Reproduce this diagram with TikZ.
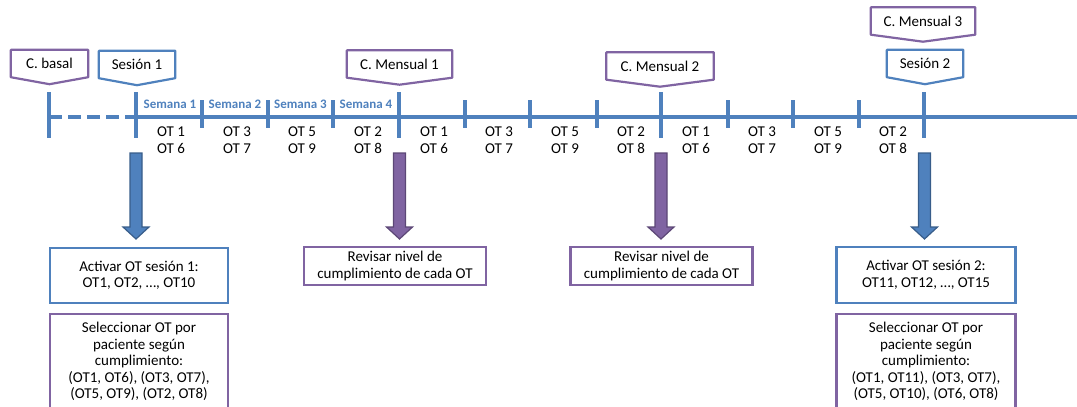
\documentclass[tikz,border=0pt]{standalone}
\usepackage{fontspec}
\setmainfont{Carlito}
\usepackage{tikz}
\definecolor{azul}{RGB}{79,129,189}
\definecolor{azulosc}{RGB}{56,93,138}
\definecolor{morado}{RGB}{128,100,162}
\definecolor{moradoosc}{RGB}{92,71,118}

\begin{document}
\begin{tikzpicture}[
    x = 1pt,
    y = -1pt,
    txt/.style = {
      font = \fontsize{15}{16.5}\selectfont,
      align = center,
      inner sep = 0pt
    },
    sem/.style = {
      font = \fontsize{13}{15}\selectfont\bfseries,
      text = azul,
      inner sep = 0pt
    },
    hito/.style = {
      txt,
      minimum height = 27pt
    },
    caja/.style = {
      txt,
      draw,
      line width = 2.2pt
    }
  ]

  \useasboundingbox (0,0) rectangle (1077,407);

  % linea de tiempo
  \draw[azul, line width=4.5pt, dash pattern=on 13pt off 6pt] (49,117) -- (136,117);
  \draw[azul, line width=4.5pt] (136,117) -- (1077,117);
  \foreach \x in {49,136,399,661,924}
    \draw[azul, line width=3.5pt] (\x,92) -- (\x,138);
  \foreach \x in {202,268,333,465,530,597,728,793,859}
    \draw[azul, line width=3.5pt] (\x,100) -- (\x,128);

  \foreach \x/\n in {170/1,235/2,300.5/3,366/4}
    \node[sem] (sem\n) at (\x,104.5) {Semana \n};

  \foreach \x/\a/\b [count=\i] in {171/1/6,237/3/7,302/5/9,368/2/8,
                                   434/1/6,499/3/7,565/5/9,631/2/8,
                                   696/1/6,762/3/7,828/5/9,893/2/8}
    \node[txt] (ot\i) at (\x,140) {OT \a\\OT \b};

  % etiquetas de arriba
  \foreach \nom/\x/\y/\w/\col/\txt in {basal/49.5/63.5/77/morado/C. basal,
                                       ses1/137/64.5/76/azul/Sesión 1,
                                       men1/399.5/64/105/morado/C. Mensual 1,
                                       men2/660/66/107/morado/C. Mensual 2,
                                       men3/923/21/104/morado/C. Mensual 3,
                                       ses2/925/63.5/76/azul/Sesión 2}
  {
    \node[hito, minimum width=\w pt] (\nom) at (\x,\y) {\txt};
    \draw[\col, line width=2.2pt, line join=round] (\nom.north west) -- (\nom.north east)
      -- (\nom.south east) -- ([yshift=-7pt]\nom.south) -- (\nom.south west) -- cycle;
  }

  % cajas de abajo
  \node[caja, draw=azul, minimum width=178pt, minimum height=55pt] (act1) at (139,275.5)
    {Activar OT sesión 1:\\OT1, OT2, …, OT10};
  \node[caja, draw=morado, minimum width=178pt, minimum height=95pt] (sel1) at (139,361.5)
    {Seleccionar OT por\\paciente según\\cumplimiento:\\(OT1, OT6), (OT3, OT7),\\(OT5, OT9), (OT2, OT8)};
  \node[caja, draw=morado, minimum width=182pt, minimum height=38pt] (rev1) at (395,266)
    {Revisar nivel de\\cumplimiento de cada OT};
  \node[caja, draw=morado, minimum width=182pt, minimum height=38pt] (rev2) at (661.5,266)
    {Revisar nivel de\\cumplimiento de cada OT};
  \node[caja, draw=azul, minimum width=179pt, minimum height=56pt] (act2) at (926,275)
    {Activar OT sesión 2:\\OT11, OT12, …, OT15};
  \node[caja, draw=morado, minimum width=179pt, minimum height=95pt] (sel2) at (926,361.5)
    {Seleccionar OT por\\paciente según\\cumplimiento:\\(OT1, OT11), (OT3, OT7),\\(OT5, OT10), (OT6, OT8)};

  % flechas
  \coordinate (f1) at (136,153);
  \coordinate (f2) at (399.5,153);
  \coordinate (f3) at (661,153);
  \coordinate (f4) at (924.5,153);
  \foreach \p/\col/\bor in {f1/azul/azulosc,f2/morado/moradoosc,f3/morado/moradoosc,f4/azul/azulosc}
    \draw[fill=\col, draw=\bor, line width=1.2pt] ([xshift=-6pt]\p) -- ++(12,0) -- ++(0,74)
      -- ++(7,0) -- ++(-13,12) -- ++(-13,-12) -- ++(7,0) -- cycle;

\end{tikzpicture}
\end{document}
